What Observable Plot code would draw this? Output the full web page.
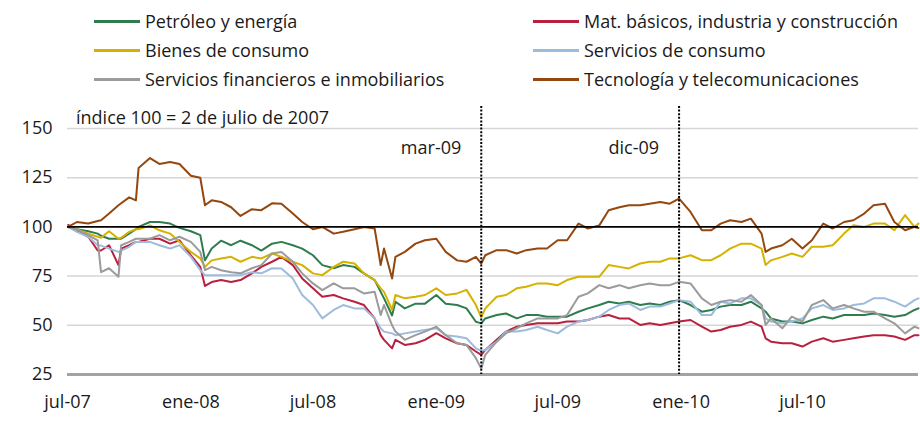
<!DOCTYPE html>
<html><head><meta charset="utf-8">
<script src="https://cdn.jsdelivr.net/npm/d3@7"></script>
<script src="https://cdn.jsdelivr.net/npm/@observablehq/plot@0.6"></script>
<style>
body{margin:0;background:#fff;font-family:"Open Sans",sans-serif;color:#1a1a1a;}
#wrap{position:relative;width:920px;height:423px;overflow:hidden;}
.item{position:absolute;height:24px;display:flex;align-items:center;font-size:18px;white-space:nowrap;}
.sw{width:46px;height:3px;margin-right:5px;}
#note{position:absolute;left:76px;top:105px;font-size:18px;line-height:24px;}
#chart{position:absolute;left:0;top:92px;}
</style>
</head><body>
<div id="wrap"><div id="legend"></div><div id="note">índice 100 = 2 de julio de 2007</div><div id="chart"></div></div>
<script>
const dates = ["2007-07-02","2007-07-15","2007-08-01","2007-08-15","2007-08-20","2007-09-01","2007-09-15","2007-09-19","2007-10-01","2007-10-11","2007-10-15","2007-11-01","2007-11-15","2007-12-01","2007-12-15",
"2008-01-01","2008-01-15","2008-01-22","2008-02-01","2008-02-15","2008-03-01","2008-03-15","2008-04-01","2008-04-15","2008-05-01","2008-05-15","2008-06-01","2008-06-15","2008-07-01","2008-07-15","2008-08-01","2008-08-15","2008-09-01","2008-09-15","2008-10-01","2008-10-10","2008-10-15","2008-10-27","2008-11-01","2008-11-15","2008-12-01","2008-12-15",
"2009-01-01","2009-01-15","2009-02-01","2009-02-15","2009-03-01","2009-03-09","2009-03-15","2009-04-01","2009-04-15","2009-05-01","2009-05-15","2009-06-01","2009-06-15","2009-07-01","2009-07-15","2009-08-01","2009-08-15","2009-09-01","2009-09-15","2009-10-01","2009-10-15","2009-11-01","2009-11-15","2009-12-01","2009-12-15","2009-12-29",
"2010-01-15","2010-02-01","2010-02-15","2010-03-01","2010-03-15","2010-04-01","2010-04-15","2010-05-01","2010-05-07","2010-05-15","2010-06-01","2010-06-15","2010-07-01","2010-07-15","2010-08-01","2010-08-15","2010-09-01","2010-09-15","2010-10-01","2010-10-15","2010-11-01","2010-11-15","2010-12-01","2010-12-15","2010-12-21"];

const petroleo = [100,98.8,97.8,96.6,95.5,94,94,94,96.6,98.8,100,102.5,102.5,101.7,99.5,
97.8,95.8,83,89,93,90.7,93,90.7,88,91.5,92.4,90.7,89,85.6,80.6,79,80.6,79.7,76.4,73,67,63.7,55,62,58.6,61,61,
65.4,61,60.3,58.6,51.8,51,53.5,55.2,56,53.5,55.2,55.2,54.4,54.4,54.4,56.9,58.6,60.3,62,61.1,62,60.3,61.1,60.3,62,62.8,
60.3,56.9,57.8,59.5,60.3,60.3,62,58.6,56.9,53.5,51.9,51.9,51,52.7,54.4,53.5,55.2,55.2,55.2,56,55.2,54.4,55.2,57.8,58.6];

const matBasicos = [101,98.3,95,88,88,90.7,80.6,89,90.7,92.4,92.4,94,94,91.5,93.2,
85.6,79.7,70,72,73,72,73,76.4,79.7,82.3,84.8,80.6,73.8,68.8,64.5,65.4,63.7,62,60.3,53.5,45,42.6,38.3,42.6,40,40.9,42.6,
46,43.4,40.9,40,36.7,35,37.5,42.6,46.8,49.3,50.2,51,51,51,51.9,51.9,52.7,54.4,55.2,53.5,53.5,50.2,51,50.2,51,51.9,
52.7,49.3,46.8,47.6,49.3,50.2,51.9,49.3,43.4,41.7,40.9,40.9,39.2,41.7,43.4,41.7,42.6,43.4,44.3,45,45,44.3,42.6,45,45];

const bienes = [100,98.8,96.6,95,94.5,97.8,94,94.5,97.5,98.8,98.8,100.8,98.3,96.6,92.4,
87.3,84,79.7,83,84,84.8,82.3,84.8,84,86.5,84.8,82.3,80.6,76.4,75.5,79.7,82.3,81.4,76.4,73,68.8,67,57.8,65.4,63.7,64.5,65.4,
68.8,65.4,66.2,68,60.3,54,58.6,64.5,65.4,68.8,69.6,71.3,71.3,70.4,73,74.7,74.7,74.7,80.6,79.7,78.9,81.4,82.3,82.3,84,84,
85.6,83.1,83.1,85.6,89,91.5,91.5,89,80.6,83,84.8,86.5,84.8,89.9,89.9,90.7,96.6,100.8,100,101.7,101.7,98.3,106,100,101.7];

const servConsumo = [100,97.5,95,90.7,90.5,89,87.3,88,89.9,92.4,92.4,92.4,90.7,89,90.7,
84.8,78,75.5,75.5,75.5,75.5,75.5,77,76.4,79,78.9,73.8,65.4,60.3,53.5,57.8,60.3,58.6,58.6,53.5,48.5,46.8,45.9,45,45.9,46.8,47.6,
48.5,45,44.3,43.4,38.3,37,37.5,41.7,46.8,46.8,47.6,49.3,47.6,45.9,49.3,51.9,52.7,54.4,57.8,60.3,61.1,57.8,59.5,59.5,61.1,62.8,
62,55.2,55.2,62,61.1,63.7,63.7,60.3,53.5,51.9,51,51.9,53.5,58.6,60.3,57.8,58.6,60.3,61.1,63.7,63.7,62,59.5,62.8,63.7];

const financieros = [100,98.8,95.8,93.2,77,79,74.7,90.7,92.4,94,94,94,95.8,93.2,95,
92.4,87.3,78,79.7,78,77,76.4,79,80.6,86.5,87.3,82.3,76.4,71.3,67.9,71.3,68.8,68.8,66.2,67,55.2,60.3,50,46.8,42.6,45,46.8,
49.3,45,40.9,40,33.3,28,35,41.7,46,48.5,51,53.5,53.5,53.5,55.2,64.5,66.2,70.4,68.8,70.4,68.8,70.4,71.3,70.4,70.4,72.1,
71.3,63.7,60.3,62,62.8,62,65.4,60.3,50.2,53.5,48.5,54.4,51.9,60.3,62.8,58.6,60.3,58.6,56.9,56.9,53.5,51,45.9,49.3,48.5];

const tecnologia = [100,102.5,101.7,103,103.4,106.8,111,112,115,113.5,130,135,132,133,132,
126,125,111,113.5,112.7,110,105.6,109,108.5,112,111.8,106.8,102.5,98.8,100,96.6,97.5,98.8,100,99.2,80.6,89,73.8,84.8,87.3,91.5,93.2,
94,87.3,83,82.3,84.8,81.4,85.6,88.2,88.2,86.5,88.2,89,89,93.2,93.2,101.7,99.2,100.8,108.5,110,111,111,111.8,112.7,111.8,114.4,
107.6,98.3,98.3,101.7,103.4,102.5,104.2,96.6,87.3,89,90.7,94,89,93.2,101.7,99.2,102.5,103.4,106.8,111,111.8,102.5,98.3,100,99.5];

const seriesNames = ["Petróleo y energía","Mat. básicos, industria y construcción","Bienes de consumo","Servicios de consumo","Servicios financieros e inmobiliarios","Tecnología y telecomunicaciones"];
const seriesColors = ["#2f7d4f","#b8203f","#d6b200","#9dbbdf","#9b9b9b","#94470f"];
const seriesValues = [petroleo, matBasicos, bienes, servConsumo, financieros, tecnologia];
const drawOrder = [0, 1, 3, 2, 4, 5];

const yTicks = [25, 50, 75, 100, 125, 150];
const xTickDates = ["2007-07-01","2008-01-01","2008-07-01","2009-01-01","2009-07-01","2010-01-01","2010-07-01"];
const xTickLabels = ["jul-07","ene-08","jul-08","ene-09","jul-09","ene-10","jul-10"];
const eventDates = ["2009-03-09","2009-12-29"];
const eventLabels = ["mar-09","dic-09"];

// legend
const legend = document.getElementById("legend");
seriesNames.forEach((name, i) => {
  const col = i % 2, row = Math.floor(i / 2);
  const it = document.createElement("div");
  it.className = "item";
  it.style.left = (col === 0 ? 94 : 533) + "px";
  it.style.top = (9 + row * 29) + "px";
  it.innerHTML = `<span class="sw" style="background:${seriesColors[i]}"></span><span>${name}</span>`;
  legend.appendChild(it);
});

seriesValues.forEach((v, i) => { if (v.length !== dates.length) throw new Error(seriesNames[i] + " length " + v.length); });

const parse = d3.utcParse("%Y-%m-%d");
const data = drawOrder.flatMap(s => dates.map((d, i) => ({date: parse(d), value: seriesValues[s][i], series: seriesNames[s]})));
const ticks = xTickDates.map(parse);
const events = eventDates.map((d, i) => ({date: parse(d), label: eventLabels[i]}));

const chart = Plot.plot({
  width: 920, height: 331,
  marginLeft: 67, marginRight: 2, marginTop: 14, marginBottom: 49,
  style: {fontFamily: "Open Sans, sans-serif", fontSize: "18px", color: "#1a1a1a", background: "transparent", overflow: "visible"},
  x: {type: "utc", domain: [parse("2007-07-01"), parse("2010-12-21")], ticks: ticks,
      tickFormat: d => xTickLabels[ticks.findIndex(t => +t === +d)], tickSize: 0, tickPadding: 21, label: null},
  y: {domain: [25, 161.2], ticks: yTicks, tickSize: 0, tickPadding: 15, label: null},
  color: {domain: seriesNames, range: seriesColors},
  marks: [
    Plot.ruleY(yTicks.filter(v => v !== 25 && v !== 100), {stroke: "#d6d6d6", strokeWidth: 1.5}),
    Plot.ruleY([25], {stroke: "#a3a3a3", strokeWidth: 3}),
    Plot.line(data, {x: "date", y: "value", stroke: "series", z: "series", strokeWidth: 2}),
    Plot.ruleY([100], {stroke: "#000", strokeWidth: 1.6}),
    Plot.ruleX(events, {x: "date", stroke: "#000", strokeWidth: 2, strokeDasharray: "2,1.6"}),
    Plot.text(events, {x: "date", text: "label", frameAnchor: "top", dy: 35, textAnchor: "end", dx: -20, fill: "#1a1a1a"})
  ]
});
document.getElementById("chart").appendChild(chart);
</script>
</body></html>
